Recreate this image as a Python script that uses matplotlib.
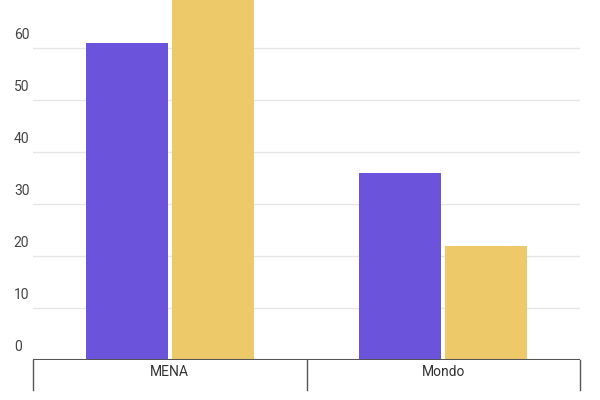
import matplotlib
matplotlib.use("Agg")
from matplotlib import pyplot as plt
import matplotlib.transforms as mtransforms

categories = ["MENA", "Mondo"]
serie_a = [61, 36]
serie_b = [72, 22]
yticks = [0, 10, 20, 30, 40, 50, 60]

plt.rcParams['font.family'] = ['Roboto', 'DejaVu Sans']

fig = plt.figure(figsize=(6, 4), dpi=100)
ax = fig.add_axes([33/600, 40/400, 547/600, 360/400])

w = 0.30
for i in range(len(categories)):
    ax.bar(i + 0.5 - 0.158, serie_a[i], width=w, color="#6c53dc", zorder=3)
    ax.bar(i + 0.5 + 0.158, serie_b[i], width=w, color="#eec96a", zorder=3)

ax.set_xlim(0, len(categories))
ax.set_ylim(0, 69.2)

for t in yticks[1:]:
    ax.axhline(t, color="#e6e6e6", lw=1, zorder=1)
ax.axhline(0, color="#555555", lw=1.5, zorder=4)

trans = mtransforms.blended_transform_factory(ax.transAxes, ax.transData)
for t in yticks:
    ax.text(-0.035, t + 1.2, str(t), transform=trans, ha="left", va="bottom",
            fontsize=10, color="#444444", clip_on=False)

for x in range(len(categories) + 1):
    ax.plot([x, x], [0, -5.8], color="#555555", lw=1, clip_on=False)
for i, c in enumerate(categories):
    ax.text(i + 0.5, -2.4, c, ha="center", va="center", fontsize=10, color="#333333")

for s in ax.spines.values():
    s.set_visible(False)
ax.set_xticks([])
ax.set_yticks([])

fig.savefig("out.png")
